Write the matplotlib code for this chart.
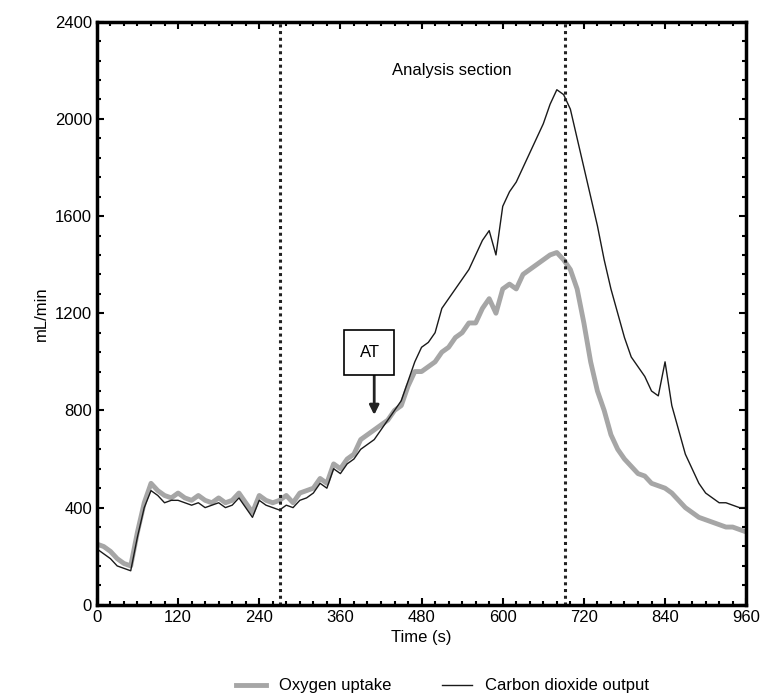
import matplotlib
matplotlib.use("Agg")
import matplotlib.pyplot as plt
from matplotlib.ticker import MultipleLocator

plt.rcParams['font.family'] = ['Liberation Sans', 'DejaVu Sans']

time_s = list(range(0, 961, 10))
oxygen = [250,240,220,190,170,160,300,420,500,470,450,440,460,440,430,450,430,420,440,420,
          430,460,420,380,450,430,420,430,450,420,460,470,480,520,500,580,560,600,620,680,
          700,720,740,760,800,820,900,960,960,980,1000,1040,1060,1100,1120,1160,1160,1220,1260,1200,
          1300,1320,1300,1360,1380,1400,1420,1440,1450,1420,1380,1300,1160,1000,880,800,700,640,600,570,
          540,530,500,490,480,460,430,400,380,360,350,340,330,320,320,310,300]
co2 = [230,210,190,160,150,140,280,400,470,450,420,430,430,420,410,420,400,410,420,400,
       410,440,400,360,430,410,400,390,410,400,430,440,460,500,480,560,540,580,600,640,
       660,680,720,760,800,840,920,1000,1060,1080,1120,1220,1260,1300,1340,1380,1440,1500,1540,1440,
       1640,1700,1740,1800,1860,1920,1980,2060,2120,2100,2040,1920,1800,1680,1560,1420,1300,1200,1100,1020,
       980,940,880,860,1000,820,720,620,560,500,460,440,420,420,410,400,400]
section_bounds = [270, 692]

fig = plt.figure(figsize=(7.63, 7.0), dpi=100)
ax = fig.add_axes([0.127, 0.136, 0.851, 0.833])
ax.plot(time_s, oxygen, color="#a6a6a6", lw=3.5, label="Oxygen uptake")
ax.plot(time_s, co2, color="#1a1a1a", lw=1.0, label="Carbon dioxide output")
for b in section_bounds:
    ax.axvline(b, color="#222222", ls=(0, (1, 1.2)), lw=2.2)
ax.set_xlim(0, 960); ax.set_ylim(0, 2400)
ax.xaxis.set_major_locator(MultipleLocator(120))
ax.xaxis.set_minor_locator(MultipleLocator(20))
ax.yaxis.set_major_locator(MultipleLocator(400))
ax.yaxis.set_minor_locator(MultipleLocator(80))
ax.tick_params(which="both", direction="in", top=True, right=True, labelsize=12)
ax.tick_params(which="major", length=5, width=1.5)
ax.tick_params(which="minor", length=3, width=1.5)
for s in ax.spines.values():
    s.set_linewidth(2.5)
ax.set_xlabel("Time (s)", fontsize=12)
ax.set_ylabel("mL/min", fontsize=12)
ax.text(525, 2200, "Analysis section", ha="center", va="center", fontsize=12)
ax.annotate("", xy=(410, 770), xytext=(410, 960),
            arrowprops=dict(arrowstyle="-|>", color="#222222", lw=2, mutation_scale=14))
ax.text(403, 1040, "AT", ha="center", va="center", fontsize=12,
        bbox=dict(boxstyle="square,pad=0.9", fc="white", ec="black", lw=1.2))
fig.legend(loc="lower center", ncol=2, frameon=False, fontsize=12,
           bbox_to_anchor=(0.58, -0.012), handlelength=1.8, columnspacing=3)
fig.savefig("out.png", dpi=100)
